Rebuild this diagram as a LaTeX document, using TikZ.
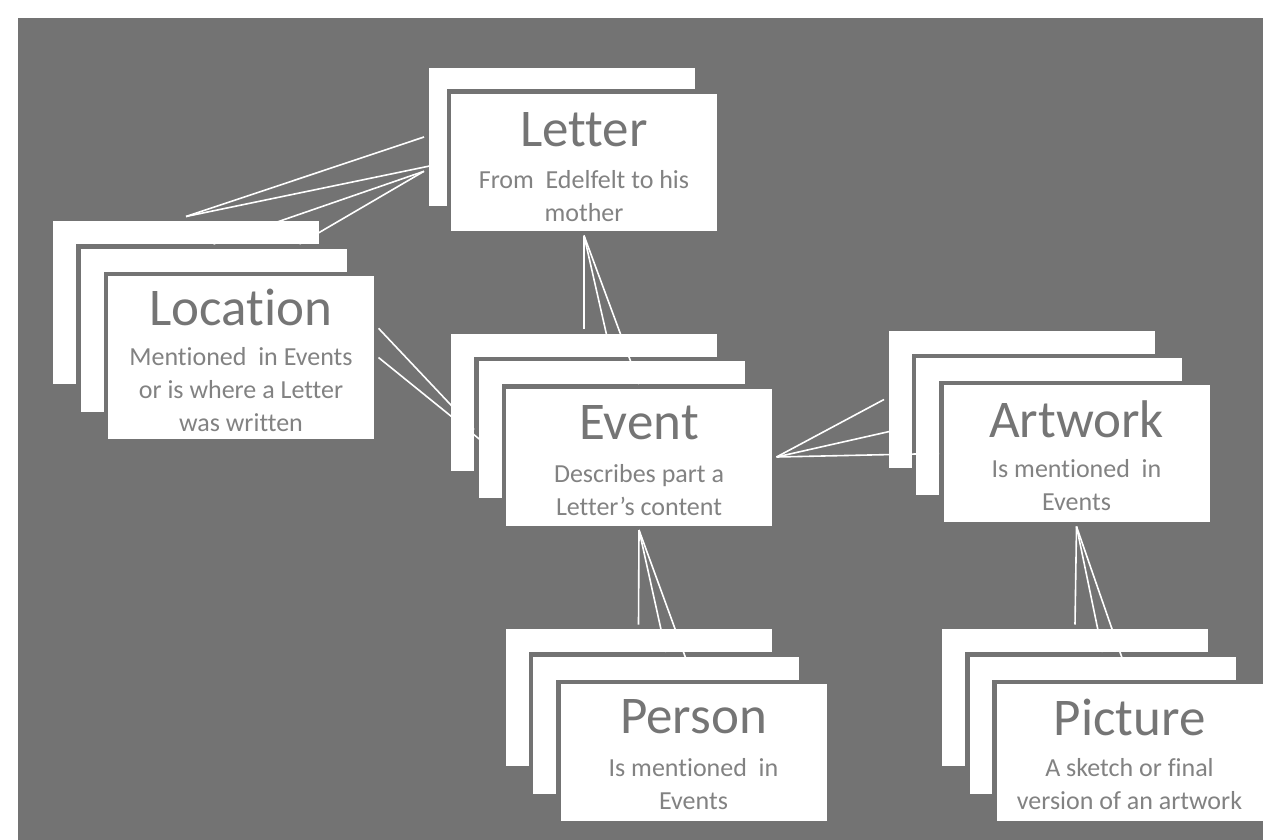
\documentclass[tikz,border=0pt]{standalone}
\usepackage{fontspec}
\setmainfont{Carlito}[Ligatures = {TeX, NoCommon}]
\definecolor{canvas}{RGB}{115,115,115}
\definecolor{headgray}{RGB}{117,117,117}
\definecolor{notegray}{RGB}{130,130,130}

\begin{document}
\begin{tikzpicture}[%
    x = 0.5pt, y = -0.5pt,
    card/.style = {rectangle, draw = canvas, fill = white, line width = 2.25pt, minimum width = 135.25pt, minimum height = 70.75pt, inner sep = 0pt},
    tallcard/.style = {card, minimum height = 83.75pt},
    head/.style = {anchor = base, text = headgray, font = \fontsize{26.5}{30}\selectfont, inner sep = 0pt},
    note/.style = {anchor = base, align = center, text = notegray, font = \fontsize{13}{16.5}\selectfont, inner sep = 0pt},
    link/.style = {draw = white, line width = 0.8pt}]

    \fill[white] (0, 0) rectangle (1263, 840);
    \fill[canvas] (18, 18) rectangle (1263, 840);
    \useasboundingbox (0, 0) rectangle (1263, 840);

    \node[card] (letter1) at (561.5, 137) {};
    \node[card] (letter2) at (584, 162.5) {};
    \node[tallcard] (loc1) at (186, 302.5) {};
    \node[tallcard] (loc2) at (213.5, 330) {};
    \node[tallcard] (loc3) at (241, 357.5) {};
    \node[card] (event1) at (584, 402) {};
    \node[card] (event2) at (611.5, 429.5) {};
    \node[card] (event3) at (639, 457) {};
    \node[card] (art1) at (1021.5, 399.5) {};
    \node[card] (art2) at (1049, 426.5) {};
    \node[card] (art3) at (1076.5, 453.5) {};
    \node[card] (person1) at (638.5, 697.5) {};
    \node[card] (person2) at (666, 725) {};
    \node[card] (person3) at (693.5, 752.5) {};
    \node[card] (pic1) at (1075, 697.5) {};
    \node[card] (pic2) at (1102.5, 725) {};
    \node[card] (pic3) at (1129.5, 752.5) {};

    % base of a note is its last line
    \node[head] (lettername) at (584, 147) {Letter};
    \node[note] (letternote) at (584, 221) {From~ Edelfelt to his\\mother};
    \node[head] (locname) at (241, 325) {Location};
    \node[note] (locnote) at (241, 431) {Mentioned~ in Events\\or is where a Letter\\was written};
    \node[head] (eventname) at (639, 439) {Event};
    \node[note] (eventnote) at (639, 515) {Describes part a\\Letter’s content};
    \node[head] (artname) at (1076.5, 437) {Artwork};
    \node[note] (artnote) at (1076.5, 510) {Is mentioned~ in\\Events};
    \node[head] (personname) at (693.5, 733) {Person};
    \node[note] (personnote) at (693.5, 809) {Is mentioned~ in\\Events};
    \node[head] (picname) at (1129.5, 735) {Picture};
    \node[note] (picnote) at (1129.5, 809) {A sketch or final\\version of an artwork};

    % letter - location
    \draw[link] (loc1.north) -- (letter1.west);
    \draw[link] (loc1.north) -- (letter2.west);
    \draw[link] (letter1.194) -- (loc2.north);
    \draw[link] (letter1.194) -- (loc2.45);
    % location - event
    \draw[link] (loc3.12) -- (event2.west);
    \draw[link] (loc3.east) -- (event3.west);
    % letter - event
    \draw[link] (letter2.south) -- (event1.north);
    \draw[link] (letter2.south) -- (event2.north);
    \draw[link] (letter2.south) -- (event3.north);
    % event - artwork
    \draw[link] (event3.east) -- (art1.west);
    \draw[link] (event3.east) -- (art2.west);
    \draw[link] (event3.east) -- (art3.west);
    % event - person
    \draw[link] (event3.south) -- (person1.north);
    \draw[link] (event3.south) -- (person2.north);
    \draw[link] (event3.south) -- (person3.north);
    % artwork - picture
    \draw[link] (art3.south) -- (pic1.north);
    \draw[link] (art3.south) -- (pic2.north);
    \draw[link] (art3.south) -- (pic3.north);
\end{tikzpicture}
\end{document}
